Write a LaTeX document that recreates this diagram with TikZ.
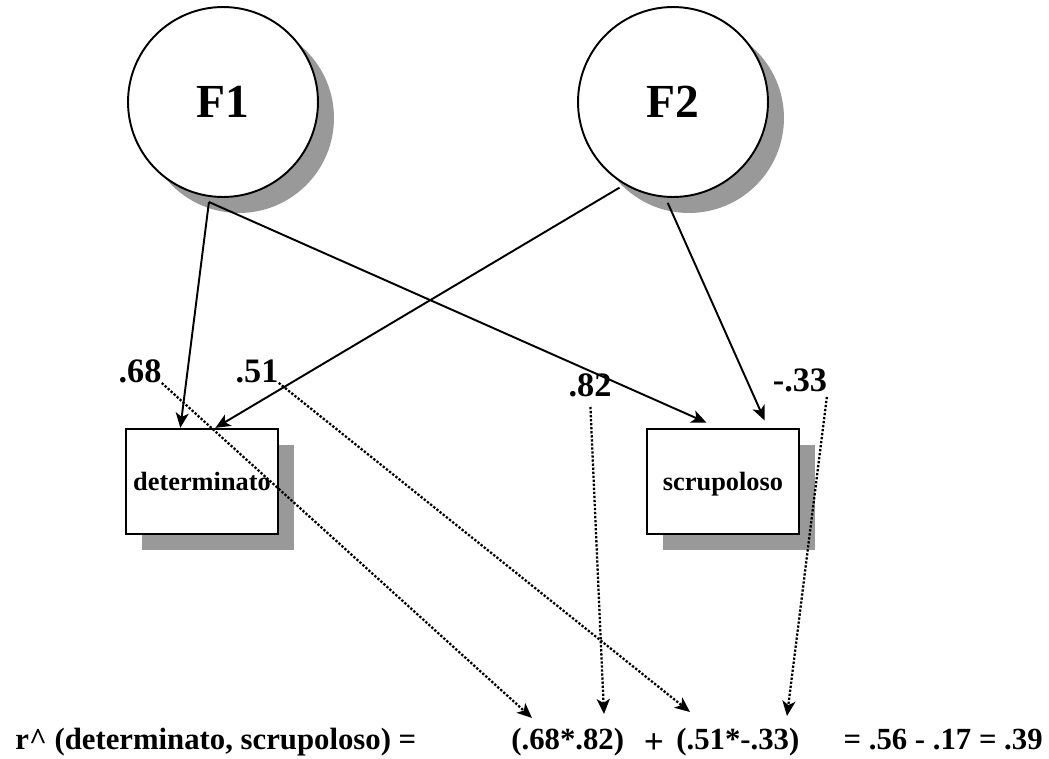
\documentclass[tikz,border=0pt]{standalone}
\usepackage{fontspec}
\setmainfont{Liberation Serif}
\usetikzlibrary{calc}
\usetikzlibrary{arrows.meta}
\usetikzlibrary{shadows}

\begin{document}
\begin{tikzpicture}[x=0.02cm,y=-0.02cm,
    boxshadow/.style={drop shadow={shadow xshift=0.32cm,shadow yshift=-0.32cm,fill=black!40,opacity=1}},
    latent/.style={circle,draw,line width=1.1pt,fill=white,minimum size=3.8cm,outer sep=0.12cm,
      boxshadow,font=\fontsize{27}{30}\selectfont\bfseries},
    observed/.style={rectangle,draw,line width=1.3pt,fill=white,minimum width=3.04cm,
      minimum height=2.1cm,text depth=0pt,boxshadow,font=\fontsize{15}{18}\selectfont\bfseries},
    coef/.style={inner sep=0pt,font=\fontsize{19.5}{22}\selectfont\bfseries},
    formula/.style={inner sep=0pt,font=\fontsize{17.5}{20}\selectfont\bfseries},
    loading/.style={line width=1.1pt,-{Stealth[length=0.3cm,width=0.26cm,inset=0.08cm]}},
    trace/.style={loading,line width=1.3pt,densely dotted}]
    \path[use as bounding box] (0,0) rectangle (1049,758);
    % Factors.
    \node[latent] (F1) at (223,102) {F1};
    \node[latent] (F2) at (673,102) {F2};
    % Items.
    \node[observed] (det) at (202,481.5) {determinato};
    \node[observed] (scr) at (723,481.5) {scrupoloso};
    % Loadings.
    \draw[loading] (F1.262) -- (det.112.7);
    \draw[loading] (F2.238) -- (det.76);
    \draw[loading,shorten >=0.26cm] (F1.262) -- (scr.95);
    \draw[loading,shorten >=0.16cm] (F2.267) -- (scr.50);
    % Coefficients.
    \node[coef] (l68) at (140,371) {.68};
    \node[coef] (l51) at (257,371) {.51};
    \node[coef] (l82) at (590,385) {.82};
    \node[coef] (l33) at (800,380) {-.33};
    % Formula.
    \node[formula,anchor=base west] (eq) at (15,749) {r\textasciicircum{} (determinato, scrupoloso) =};
    \node[formula,anchor=base west] (p1) at (511,749) {(.68*.82)};
    \node[formula,anchor=base,font=\fontsize{20}{22}\selectfont\bfseries] (plus) at (654,753) {+};
    \node[formula,anchor=base west] (p2) at (676,749) {(.51*-.33)};
    \node[formula,anchor=base east] (res) at (1043,749) {= .56 - .17 = .39};
    \coordinate (t68) at (532,718);
    \coordinate (t82) at (604,714);
    \coordinate (t51) at (690,712);
    \coordinate (t33) at (787,716);
    % Products.
    \draw[trace] (l68.south east) -- (t68);
    \draw[trace] (l51.south east) -- (t51);
    \draw[trace,shorten <=0.2cm] (l82.south) -- (t82);
    \draw[trace,shorten <=0.1cm] (l33.south east) -- (t33);
\end{tikzpicture}
\end{document}
